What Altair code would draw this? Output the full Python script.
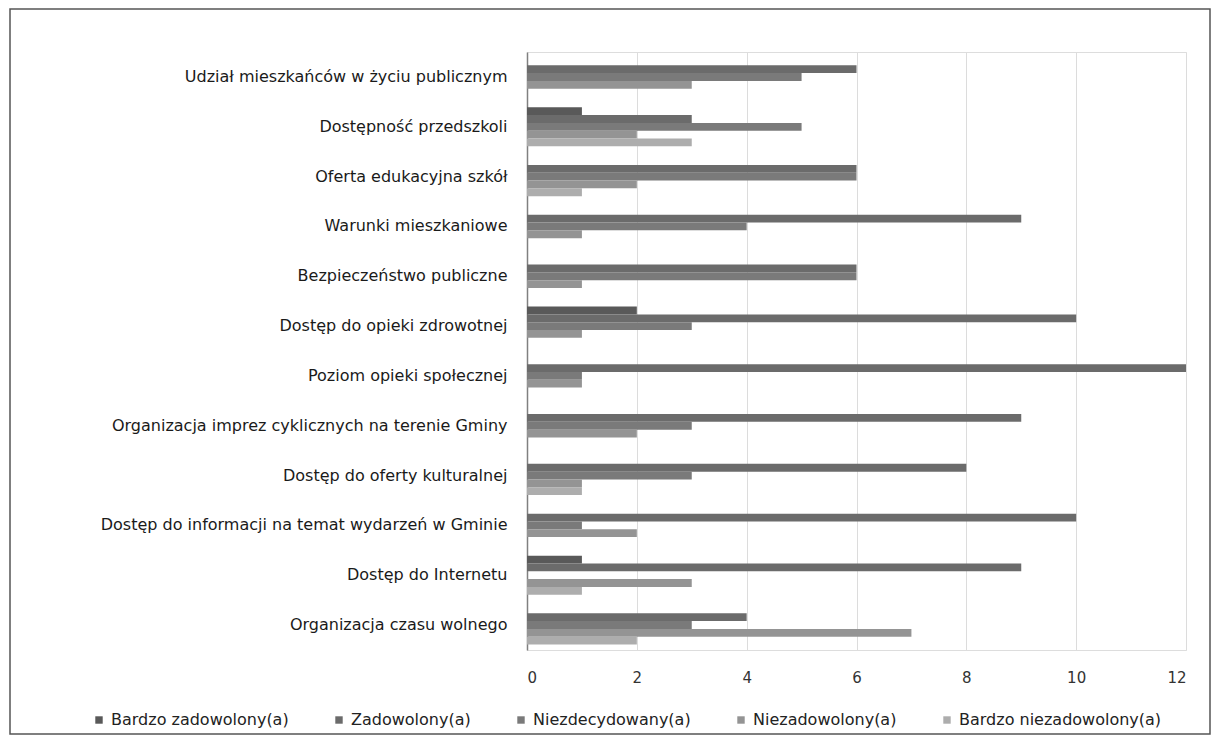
import altair as alt
import pandas as pd

categories = [
    "Udział mieszkańców w życiu publicznym",
    "Dostępność przedszkoli",
    "Oferta edukacyjna szkół",
    "Warunki mieszkaniowe",
    "Bezpieczeństwo publiczne",
    "Dostęp do opieki zdrowotnej",
    "Poziom opieki społecznej",
    "Organizacja imprez cyklicznych na terenie Gminy",
    "Dostęp do oferty kulturalnej",
    "Dostęp do informacji na temat wydarzeń w Gminie",
    "Dostęp do Internetu",
    "Organizacja czasu wolnego",
]

series = [
    "Bardzo zadowolony(a)",
    "Zadowolony(a)",
    "Niezdecydowany(a)",
    "Niezadowolony(a)",
    "Bardzo niezadowolony(a)",
]

bardzo_zadowolony = [0, 1, 0, 0, 0, 2, 0, 0, 0, 0, 1, 0]
zadowolony = [6, 3, 6, 9, 6, 10, 12, 9, 8, 10, 9, 4]
niezdecydowany = [5, 5, 6, 4, 6, 3, 1, 3, 3, 1, 0, 3]
niezadowolony = [3, 2, 2, 1, 1, 1, 1, 2, 1, 2, 3, 7]
bardzo_niezadowolony = [0, 3, 1, 0, 0, 0, 0, 0, 1, 0, 1, 2]

x_ticks = [0, 2, 4, 6, 8, 10, 12]

colors = ["#595959", "#6b6b6b", "#7a7a7a", "#949494", "#adadad"]

rows = []
for s, vals in zip(series, [bardzo_zadowolony, zadowolony, niezdecydowany,
                            niezadowolony, bardzo_niezadowolony]):
    for c, v in zip(categories, vals):
        rows.append({"kategoria": c, "seria": s, "wartosc": v})
df = pd.DataFrame(rows)

FONT = "DejaVu Sans"

bars = alt.Chart(df).mark_bar(strokeWidth=0).encode(
    y=alt.Y(
        "kategoria:N",
        sort=categories,
        scale=alt.Scale(paddingInner=0.217, paddingOuter=0.11),
        axis=alt.Axis(
            title=None, labelFont=FONT, labelFontSize=16, labelColor="#1a1a1a",
            labelPadding=20, ticks=False, domain=True, domainColor="#808080",
            domainWidth=1.5, labelLimit=700, grid=False,
        ),
    ),
    yOffset=alt.YOffset("seria:N", sort=series,
                        scale=alt.Scale(paddingInner=0, paddingOuter=0)),
    x=alt.X(
        "wartosc:Q",
        scale=alt.Scale(domain=[0, 12], nice=False),
        axis=alt.Axis(
            values=x_ticks, title=None, labelFont=FONT, labelFontSize=15,
            labelColor="#333333", labelPadding=20, ticks=False, domain=False,
            grid=True, gridColor="#dcdcdc", gridWidth=1,
        ),
    ),
    color=alt.Color(
        "seria:N",
        sort=series,
        scale=alt.Scale(domain=series, range=colors),
        legend=alt.Legend(
            title=None, orient="none", legendX=-436, legendY=660,
            direction="horizontal", labelFont=FONT, labelFontSize=16,
            labelColor="#222222", symbolType="square", symbolSize=55,
            symbolStrokeWidth=0, labelOffset=4, columnPadding=42,
            labelLimit=400, gridAlign="none",
        ),
    ),
)

frame = alt.Chart(pd.DataFrame({"f": [0]})).mark_rect(
    fill="white", fillOpacity=0, stroke="#555555", strokeWidth=1.5
).encode(
    x=alt.value(-517), x2=alt.value(683),
    y=alt.value(-43), y2=alt.value(682),
)

chart = alt.layer(frame, bars).properties(
    width=659,
    height=598,
    autosize=alt.AutoSizeParams(type="none"),
    padding={"left": 519, "top": 44, "right": 25, "bottom": 86},
).configure_view(stroke=None).configure(background="white")

chart.save("out.html", embed_options={"renderer": "svg", "actions": False})
